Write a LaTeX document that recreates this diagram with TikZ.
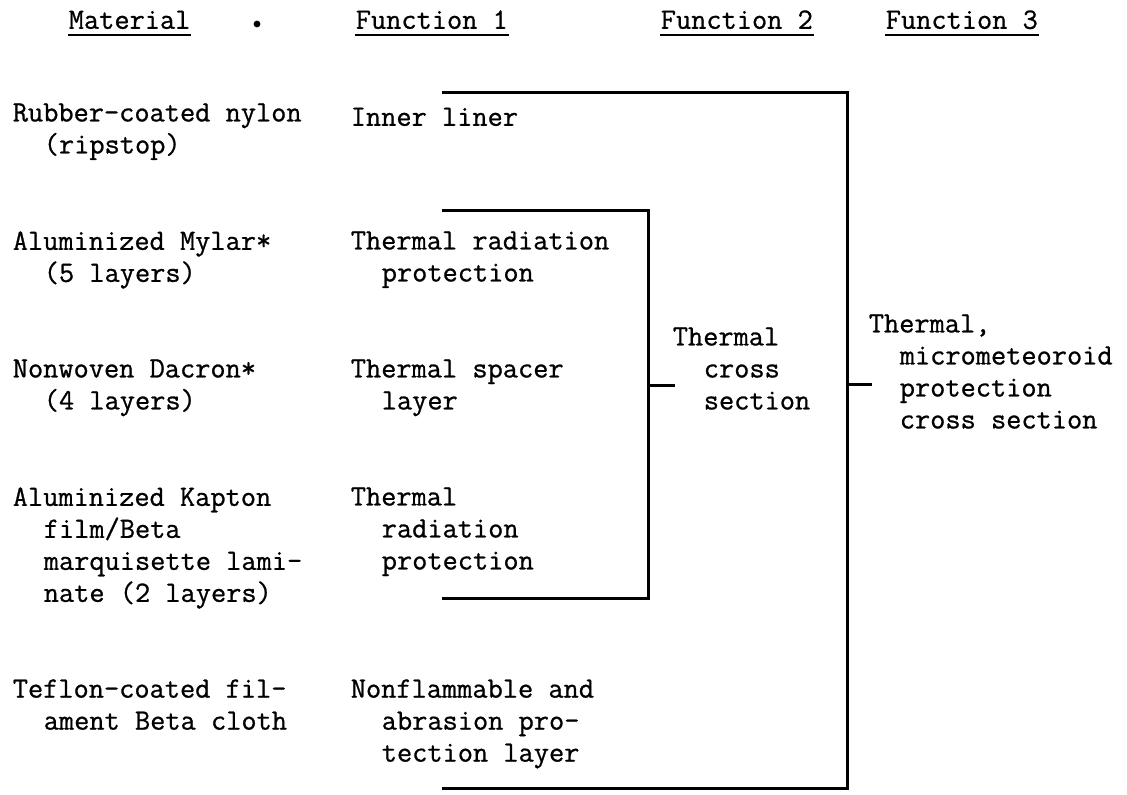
\documentclass[tikz,border=0pt]{standalone}
\usepackage{fontspec}
\usepackage{tikz}
\newfontfamily\typer{Latin Modern Mono}[FakeBold=0.8]
\tikzstyle{cell}=[anchor=north west, inner sep=0pt, align=left, font=\typer\fontsize{14.76pt}{16pt}\selectfont, execute at begin node=\strut]
\tikzstyle{bracket}=[line width=1.5pt, line cap=rect]
\tikzstyle{uline}=[line width=1.2pt]
\newcommand{\twoch}{\hspace*{1.05em}}

\begin{document}
\begin{tikzpicture}[x=0.5pt, y=-0.5pt, thick]
    \useasboundingbox (0,0) rectangle (1127,794);
    % headings
    \node[cell] (10) at (68, 5.6)  {Material};
    \node[cell] (20) at (355, 5.6) {Function 1};
    \node[cell] (30) at (660, 5.6) {Function 2};
    \node[cell] (40) at (885, 5.6) {Function 3};
    \fill (257,24) circle (1.7pt);
    \foreach \h in {10,20,30,40}
        \draw[uline] ([yshift=-3pt]\h.base west) -- ([yshift=-3pt]\h.base east);
    % materials
    \node[cell] (11) at (12, 102.6) {Rubber-coated nylon\\\twoch(ripstop)};
    \node[cell] (12) at (12, 230.6) {Aluminized Mylar*\\\twoch(5 layers)};
    \node[cell] (13) at (12, 358.6) {Nonwoven Dacron*\\\twoch(4 layers)};
    \node[cell] (14) at (12, 486.6) {Aluminized Kapton\\\twoch film/Beta\\\twoch marquisette lami-\\\twoch nate (2 layers)};
    \node[cell] (15) at (12, 678.6) {Teflon-coated fil-\\\twoch ament Beta cloth};
    % function 1
    \node[cell] (21) at (350, 102.6) {Inner liner};
    \node[cell] (22) at (350, 230.6) {Thermal radiation\\\twoch protection};
    \node[cell] (23) at (350, 358.6) {Thermal spacer\\\twoch layer};
    \node[cell] (24) at (350, 486.6) {Thermal\\\twoch radiation\\\twoch protection};
    \node[cell] (25) at (350, 678.6) {Nonflammable and\\\twoch abrasion pro-\\\twoch tection layer};
    % function 2 and 3
    \node[cell] (31) at (672, 326.6) {Thermal\\\twoch cross\\\twoch section};
    \node[cell] (41) at (868, 313.6) {Thermal,\\\twoch micrometeoroid\\\twoch protection\\\twoch cross section};
    % brackets
    \coordinate (a1) at (443,210);
    \coordinate (a2) at (648,210);
    \coordinate (a3) at (648,598);
    \coordinate (a4) at (443,598);
    \coordinate (a5) at (648,385);
    \coordinate (a6) at (673,385);
    \coordinate (b1) at (443,92);
    \coordinate (b2) at (847,92);
    \coordinate (b3) at (847,788);
    \coordinate (b4) at (443,788);
    \coordinate (b5) at (847,384);
    \coordinate (b6) at (870,384);
    \draw[bracket] (a1) -- (a2) -- (a3) -- (a4);
    \draw[bracket] (a5) -- (a6);
    \draw[bracket] (b1) -- (b2) -- (b3) -- (b4);
    \draw[bracket] (b5) -- (b6);
\end{tikzpicture}
\end{document}
